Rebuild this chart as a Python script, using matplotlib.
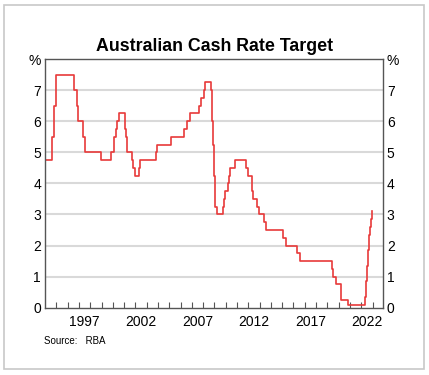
import pandas as pd
import matplotlib.pyplot as plt
from matplotlib.patches import Rectangle

plt.rcParams['font.family'] = ['Liberation Sans', 'DejaVu Sans']

# RBA cash rate target changes (effective date, rate %)
dates = ['1993-03-30', '1994-08-17', '1994-10-24', '1994-12-14', '1996-07-31',
         '1996-11-06', '1996-12-11', '1997-05-23', '1997-07-30', '1998-12-02',
         '1999-11-03', '2000-02-02', '2000-04-05', '2000-05-03', '2000-08-02',
         '2001-02-07', '2001-03-07', '2001-04-04', '2001-09-05', '2001-10-03',
         '2001-12-05', '2002-05-08', '2002-06-05', '2003-11-05', '2003-12-03',
         '2005-03-02', '2006-05-03', '2006-08-02', '2006-11-08', '2007-08-08',
         '2007-11-07', '2008-02-06', '2008-03-05', '2008-09-03', '2008-10-08',
         '2008-11-05', '2008-12-03', '2009-02-04', '2009-04-08', '2009-10-07',
         '2009-11-04', '2009-12-02', '2010-03-03', '2010-04-07', '2010-05-05',
         '2010-11-03', '2011-11-02', '2011-12-07', '2012-05-02', '2012-06-06',
         '2012-10-03', '2012-12-05', '2013-05-08', '2013-08-07', '2015-02-04',
         '2015-05-06', '2016-05-04', '2016-08-03', '2019-06-05', '2019-07-03',
         '2019-10-02', '2020-03-04', '2020-03-19', '2020-11-04', '2022-05-04',
         '2022-06-08', '2022-07-06', '2022-08-03', '2022-09-07', '2022-10-05',
         '2022-11-02', '2022-12-07', '2022-12-20']
rates = [4.75, 5.5, 6.5, 7.5, 7.0,
         6.5, 6.0, 5.5, 5.0, 4.75,
         5.0, 5.5, 5.75, 6.0, 6.25,
         5.75, 5.5, 5.0, 4.75, 4.5,
         4.25, 4.5, 4.75, 5.0, 5.25,
         5.5, 5.75, 6.0, 6.25, 6.5,
         6.75, 7.0, 7.25, 7.0, 6.0,
         5.25, 4.25, 3.25, 3.0, 3.25,
         3.5, 3.75, 4.0, 4.25, 4.5,
         4.75, 4.5, 4.25, 3.75, 3.5,
         3.25, 3.0, 2.75, 2.5, 2.25,
         2.0, 1.75, 1.5, 1.25, 1.0,
         0.75, 0.5, 0.25, 0.1, 0.35,
         0.85, 1.35, 1.85, 2.35, 2.6,
         2.85, 3.1, 3.1]

year_ticks = list(range(1995, 2024))
year_labels = ['1997', '2002', '2007', '2012', '2017', '2022']
y_ticks = [0, 1, 2, 3, 4, 5, 6, 7, 8]
y_labels = ['0', '1', '2', '3', '4', '5', '6', '7', '%']

d = pd.to_datetime(dates)
x = d.year + (d.dayofyear - 1) / 365.25

fig = plt.figure(figsize=(4.29, 3.75), dpi=100)
ax = fig.add_axes([0.105, 0.1795, 0.787, 0.663])

ax.step(x, rates, where='post', color='#e83a3a', lw=1.2)

ax.set_xlim(1994.0, 2023.9)
ax.set_ylim(0, 8)

ax.set_yticks(y_ticks)
ax.set_yticklabels(y_labels)
ax.tick_params(axis='y', length=0, labelsize=10, pad=3,
               left=True, right=True, labelleft=True, labelright=True)
for v in y_ticks[1:-1]:
    ax.axhline(v, color='#d9d9d9', lw=1.5, zorder=0)

ax.set_xticks(year_ticks)
ax.set_xticklabels([])
ax.tick_params(axis='x', which='major', direction='in', length=4, color='#555555')
ax.set_xticks([int(s) + 0.5 for s in year_labels], minor=True)
ax.set_xticklabels(year_labels, minor=True)
ax.tick_params(axis='x', which='minor', length=0, labelsize=10, pad=5)

for s in ax.spines.values():
    s.set_color('#555555')
    s.set_linewidth(1.0)

fig.text(0.5, 0.875, 'Australian Cash Rate Target', ha='center', va='center',
         fontsize=12.8, fontweight='bold')
fig.text(0.103, 0.09, 'Source:   RBA', ha='left', va='center', fontsize=7)

fig.patches.append(Rectangle((3.5 / 429, 1 - 369 / 375), (424 - 3.5) / 429, (369 - 4.5) / 375,
                             transform=fig.transFigure, fill=False,
                             edgecolor='#c8c8c8', lw=1.2))

fig.savefig('out.png', dpi=100)
